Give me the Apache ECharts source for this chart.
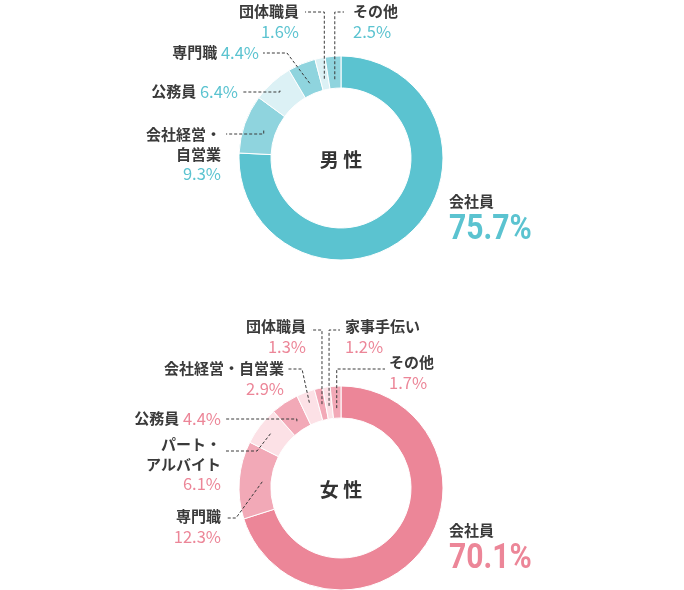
<!DOCTYPE html>
<html><head><meta charset="utf-8">
<script src="https://cdn.jsdelivr.net/npm/echarts@6/dist/echarts.min.js"></script>
<style>html,body{margin:0;padding:0;background:#fff}#c{width:684px;height:590px}</style>
</head><body><div id="c"></div>
<script>
const maleNames = ['会社員','会社経営・自営業','公務員','専門職','団体職員','その他'];
const maleValues = [75.7, 9.3, 6.4, 4.4, 1.6, 2.5];
const maleLabels = ['会社員','会社経営・\n自営業','公務員','専門職','団体職員','その他'];
const femaleNames = ['会社員','専門職','パート・アルバイト','公務員','会社経営・自営業','団体職員','家事手伝い','その他'];
const femaleValues = [70.1, 12.3, 6.1, 4.4, 2.9, 1.3, 1.2, 1.7];
const femaleLabels = ['会社員','専門職','パート・\nアルバイト','公務員','会社経営・自営業','団体職員','家事手伝い','その他'];

const FONT = "'Noto Sans CJK JP','Noto Sans',sans-serif";
const R_IN = 70, R_OUT = 102;

const maleCfg = {
  center: [341, 158], title: '男 性', valueColor: '#5bc3d0', bigY: 230.5,
  colors: ['#5bc3d0','#8fd4de','#dcf1f5','#8fd4de','#dcf1f5','#8fd4de'],
  layout: [
    {kind:'big', x:449, y:190, align:'left'},
    {kind:'stack', x:221, y:125, align:'right', line:{r:82, ly:134, ex:226}},
    {kind:'inline', x:238, y:82, align:'right', line:{r:91, ly:92, ex:243}},
    {kind:'inline', x:259, y:43, align:'right', line:{r:81, ly:53, bx:287, ex:263}},
    {kind:'stack', x:299, y:2, align:'right', line:{r:81, ly:12, ex:305}},
    {kind:'stack', x:353, y:2, align:'left', line:{r:79, ly:12, ex:344}}
  ]
};
const femaleCfg = {
  center: [341, 488], title: '女 性', valueColor: '#ec8698', bigY: 559.5,
  colors: ['#ec8698','#f2a9b7','#fce1e6','#f2a9b7','#fce1e6','#f2a9b7','#fce1e6','#f2a9b7'],
  layout: [
    {kind:'big', x:449, y:519.5, align:'left'},
    {kind:'stack', x:221, y:507, align:'right', line:{r:79, ly:518, bx:236, ex:226}},
    {kind:'stack', x:221, y:435, align:'right', line:{r:89, ly:451, bx:257, ex:226}},
    {kind:'inline', x:221, y:409, align:'right', line:{r:80, ly:419, ex:226}},
    {kind:'stack', x:284, y:359, align:'right', line:{r:91, ly:369, bx:302, ex:287}},
    {kind:'stack', x:306, y:317, align:'right', line:{r:86, ly:330, ex:311}},
    {kind:'stack', x:345, y:317, align:'left', line:{r:83, ly:330, ex:340}},
    {kind:'stack', x:389, y:353, align:'left', line:{r:80, ly:369, ex:385}}
  ]
};

function midFractions(values) {
  const total = values.reduce((a, b) => a + b, 0);
  let acc = 0;
  return values.map(v => { const m = (acc + v / 2) / total; acc += v; return m; });
}

function leaderLines(values, cfg) {
  const mids = midFractions(values);
  const out = [];
  cfg.layout.forEach((c, i) => {
    if (!c.line) return;
    const th = mids[i] * Math.PI * 2;
    const sx = cfg.center[0] + c.line.r * Math.sin(th);
    const sy = cfg.center[1] - c.line.r * Math.cos(th);
    const bx = c.line.bx != null ? c.line.bx : sx;
    out.push({
      type: 'polyline', z: 100, silent: true,
      shape: {points: [[sx, sy], [bx, c.line.ly], [c.line.ex, c.line.ly]]},
      style: {stroke: '#3a3a3a', lineWidth: 1, lineDash: [3, 2], fill: null}
    });
  });
  return out;
}

function bigValue(values, cfg) {
  const c = cfg.layout[0];
  return {
    type: 'text', z: 100, silent: true, x: c.x, y: cfg.bigY, scaleX: 0.86,
    style: {text: values[0].toFixed(1) + '%', fontFamily: "Roboto,'Noto Sans',sans-serif",
      fontSize: 35, fontWeight: 'bold', fill: cfg.valueColor,
      textAlign: 'left', textVerticalAlign: 'middle'}
  };
}

function makeSeries(names, values, labels, cfg) {
  return {
    type: 'pie',
    center: cfg.center,
    radius: [R_IN, R_OUT],
    startAngle: 90,
    clockwise: true,
    avoidLabelOverlap: false,
    silent: true,
    itemStyle: {borderColor: '#fff', borderWidth: 1},
    data: names.map((n, i) => ({name: n, value: values[i], itemStyle: {color: cfg.colors[i]}})),
    label: {
      show: true,
      position: 'outside',
      fontFamily: FONT,
      formatter: p => {
        const c = cfg.layout[p.dataIndex];
        const val = p.value.toFixed(1) + '%';
        const lab = labels[p.dataIndex].split('\n').map(s => '{n|' + s + '}').join('\n');
        if (c.kind === 'big') return '{nb|' + labels[p.dataIndex] + '}';
        if (c.kind === 'inline') return '{n|' + labels[p.dataIndex] + '}{v| ' + val + '}';
        return lab + '\n{v|' + val + '}';
      },
      rich: {
        n: {fontFamily: FONT, fontSize: 15, fontWeight: 'bold', color: '#3a3a3a', lineHeight: 19.5},
        nb: {fontFamily: FONT, fontSize: 15, fontWeight: 'bold', color: '#3a3a3a', lineHeight: 22},
        v: {fontFamily: FONT, fontSize: 16.5, color: cfg.valueColor, lineHeight: 19.5}
      }
    },
    labelLine: {show: false},
    labelLayout: params => {
      const c = cfg.layout[params.dataIndex];
      return {x: c.x, y: c.y, align: c.align, verticalAlign: 'top'};
    }
  };
}

const chart = echarts.init(document.getElementById('c'), null, {renderer: 'canvas'});
chart.setOption({
  backgroundColor: '#fff',
  animation: false,
  graphic: [
    ...[maleCfg, femaleCfg].map(cfg => ({
      type: 'text', x: cfg.center[0], y: cfg.center[1] + 2,
      style: {text: cfg.title, fontFamily: FONT, fontSize: 19, fontWeight: 'bold', fill: '#333',
        textAlign: 'center', textVerticalAlign: 'middle'}
    })),
    ...leaderLines(maleValues, maleCfg),
    ...leaderLines(femaleValues, femaleCfg),
    bigValue(maleValues, maleCfg),
    bigValue(femaleValues, femaleCfg)
  ],
  series: [
    makeSeries(maleNames, maleValues, maleLabels, maleCfg),
    makeSeries(femaleNames, femaleValues, femaleLabels, femaleCfg)
  ]
});
</script>
</body></html>
